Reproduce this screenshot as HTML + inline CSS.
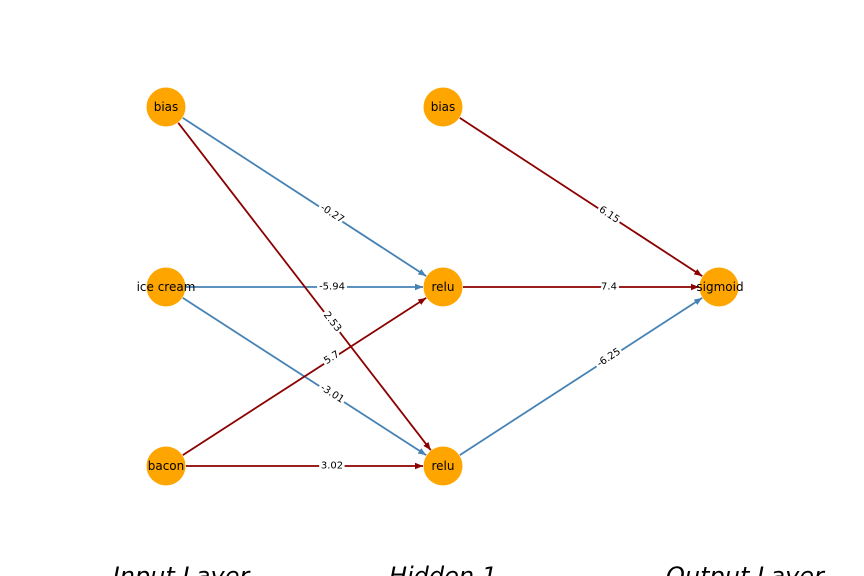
<!DOCTYPE html>
<html><head><meta charset="utf-8"><style>
html,body{margin:0;padding:0;background:#fff;}
svg{display:block;}
.n{font-family:"DejaVu Sans","Liberation Sans",sans-serif;font-size:12px;text-anchor:middle;dominant-baseline:central;fill:#000;}
.e{font-family:"DejaVu Sans","Liberation Sans",sans-serif;font-size:10px;text-anchor:middle;dominant-baseline:central;fill:#000;stroke:#fff;stroke-width:5px;paint-order:stroke;}
.t{font-family:"DejaVu Sans","Liberation Sans",sans-serif;font-size:24px;font-style:italic;text-anchor:middle;fill:#000;}
</style></head><body>
<svg width="864" height="576" viewBox="0 0 864 576" xmlns="http://www.w3.org/2000/svg">
<defs>
<marker id="ab" viewBox="0 0 10 10" refX="10" refY="5" markerWidth="8" markerHeight="8" markerUnits="userSpaceOnUse" orient="auto"><path d="M0,1 L10,5 L0,9 Z" fill="#4682b4"/></marker>
<marker id="ar" viewBox="0 0 10 10" refX="10" refY="5" markerWidth="8" markerHeight="8" markerUnits="userSpaceOnUse" orient="auto"><path d="M0,1 L10,5 L0,9 Z" fill="#8b0000"/></marker>
</defs>
<g stroke-width="1.8" fill="none">
<line x1="182.8" y1="117.9" x2="426.2" y2="276.1" stroke="#4682b4" marker-end="url(#ab)"/>
<line x1="186" y1="287" x2="423" y2="287" stroke="#4682b4" marker-end="url(#ab)"/>
<line x1="178.2" y1="122.8" x2="430.8" y2="450.2" stroke="#8b0000" marker-end="url(#ar)"/>
<line x1="182.8" y1="297.9" x2="426.2" y2="455.1" stroke="#4682b4" marker-end="url(#ab)"/>
<line x1="182.8" y1="455.1" x2="426.2" y2="297.9" stroke="#8b0000" marker-end="url(#ar)"/>
<line x1="186" y1="466" x2="423" y2="466" stroke="#8b0000" marker-end="url(#ar)"/>
<line x1="459.8" y1="117.9" x2="702.2" y2="276.1" stroke="#8b0000" marker-end="url(#ar)"/>
<line x1="463" y1="287" x2="699" y2="287" stroke="#8b0000" marker-end="url(#ar)"/>
<line x1="459.8" y1="455.1" x2="702.2" y2="297.9" stroke="#4682b4" marker-end="url(#ab)"/>
</g>
<text class="e" transform="translate(332,214) rotate(33)">-0.27</text>
<text class="e" x="332" y="287">-5.94</text>
<text class="e" transform="translate(332,322) rotate(52.3)">2.53</text>
<text class="e" transform="translate(332,394) rotate(32.9)">-3.01</text>
<text class="e" transform="translate(332,358) rotate(-32.9)">5.7</text>
<text class="e" x="332" y="466">3.02</text>
<text class="e" transform="translate(609,215) rotate(33.1)">6.15</text>
<text class="e" x="609" y="287">7.4</text>
<text class="e" transform="translate(609,358) rotate(-33.1)">-6.25</text>
<g fill="#ffa500">
<circle cx="166" cy="107" r="19.5"/><circle cx="166" cy="287" r="19.5"/><circle cx="166" cy="466" r="19.5"/>
<circle cx="443" cy="107" r="19.5"/><circle cx="443" cy="287" r="19.5"/><circle cx="443" cy="466" r="19.5"/>
<circle cx="719" cy="287" r="19.5"/>
</g>
<text class="n" x="166" y="107">bias</text>
<text class="n" x="166" y="287">ice cream</text>
<text class="n" x="166" y="466">bacon</text>
<text class="n" x="443" y="107">bias</text>
<text class="n" x="443" y="287">relu</text>
<text class="n" x="443" y="466">relu</text>
<text class="n" x="720" y="287">sigmoid</text>
<text class="t" x="181" y="584">Input Layer</text>
<text class="t" x="443" y="584">Hidden 1</text>
<text class="t" x="745" y="584">Output Layer</text>
</svg>
</body></html>
